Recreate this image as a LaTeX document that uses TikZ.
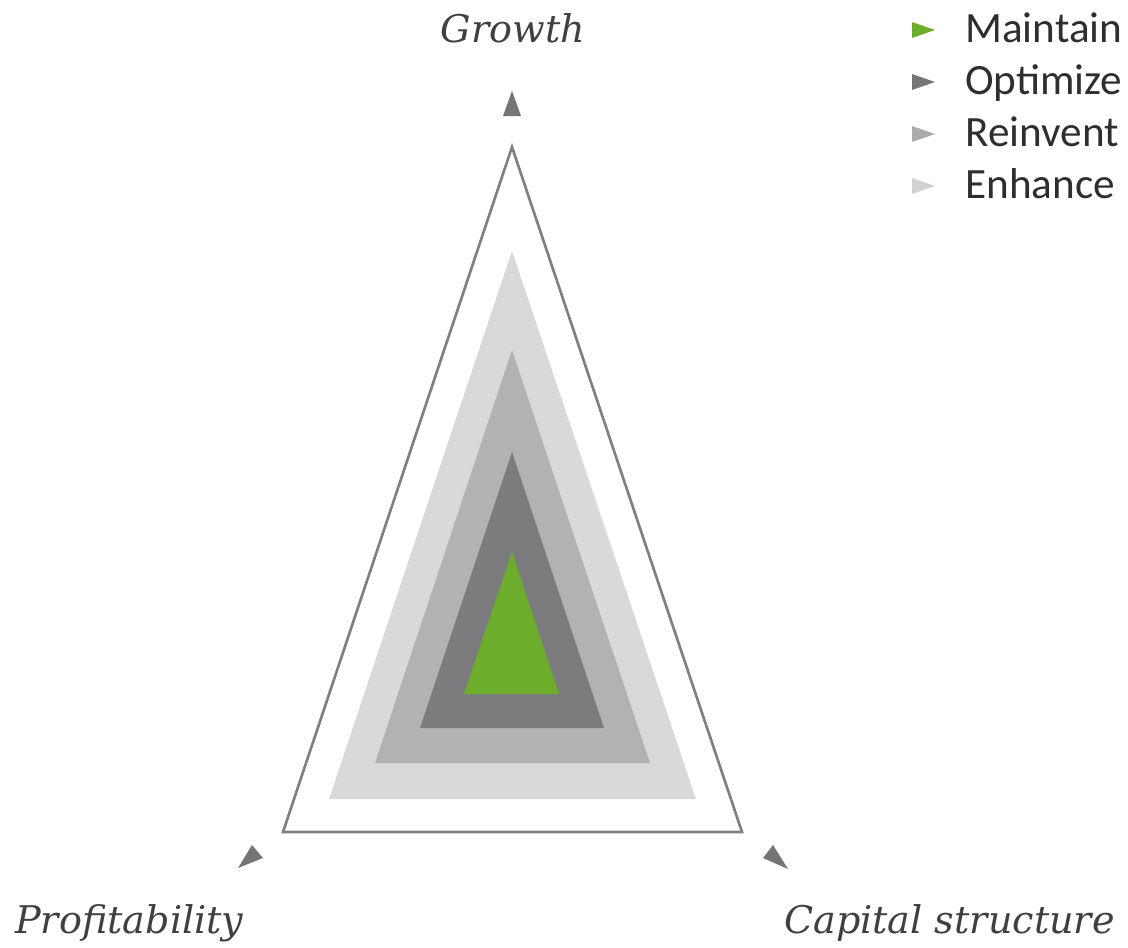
\documentclass[tikz,border=0pt]{standalone}
\usepackage{fontspec}
\setmainfont{Carlito}
\newfontfamily\axisfont{DejaVu Serif}
\begin{document}
\begin{tikzpicture}[x=0.75pt,y=-0.75pt,
  axislabel/.style={font=\axisfont\itshape\fontsize{28.6}{32}\selectfont, text=black!75, inner sep=0pt},
  legendlabel/.style={font=\fontsize{32.4}{36}\selectfont, text=black!82, anchor=base west, inner sep=0pt},
  pointer/.style={fill=black!54, draw=none},
  keymark/.style={draw=none}]
\useasboundingbox (0,0) rectangle (1128,947);
\definecolor{maintain}{HTML}{6CAE2C}
\definecolor{optimize}{HTML}{7B7B7D}
\definecolor{reinvent}{HTML}{B2B2B2}
\definecolor{enhance}{HTML}{D9D9D9}

% outer frame
\draw[draw=black!50, line width=2pt, line join=miter] (512,147) -- (742,832) -- (283,832) -- cycle;
% nested levels
\fill[enhance]  (512,251) -- (696,799) -- (329,799) -- cycle;
\fill[reinvent] (512,350) -- (650,763) -- (375,763) -- cycle;
\fill[optimize] (512,452) -- (604,728) -- (420,728) -- cycle;
\fill[maintain] (512,552) -- (559,694) -- (464,694) -- cycle;

% axis pointers
\fill[pointer] (512,91) -- (521,116) -- (503,116) -- cycle;
\fill[pointer] (238,868) -- (252,845) -- (263,858) -- cycle;
\fill[pointer] (788,869) -- (763,858) -- (773,845) -- cycle;

% axis labels
\node[axislabel, anchor=base] (growth) at (513,42) {Growth};
\node[axislabel, anchor=base west] (profit) at (15,933) {Profitability};
\node[axislabel, anchor=base east] (capital) at (1115,933) {Capital structure};

% legend
\fill[keymark, maintain] (912,22) -- (935,30) -- (912,38) -- cycle;
\fill[keymark, black!54] (912,74) -- (935,82) -- (912,90) -- cycle;
\fill[keymark, black!33] (912,126) -- (935,134) -- (912,142) -- cycle;
\fill[keymark, black!18] (912,178) -- (935,186) -- (912,194) -- cycle;
\node[legendlabel] (kmaintain) at (965,42) {Maintain};
\node[legendlabel] (koptimize) at (965,94) {Optimize};
\node[legendlabel] (kreinvent) at (965,146) {Reinvent};
\node[legendlabel] (kenhance) at (965,198) {Enhance};
\end{tikzpicture}
\end{document}
